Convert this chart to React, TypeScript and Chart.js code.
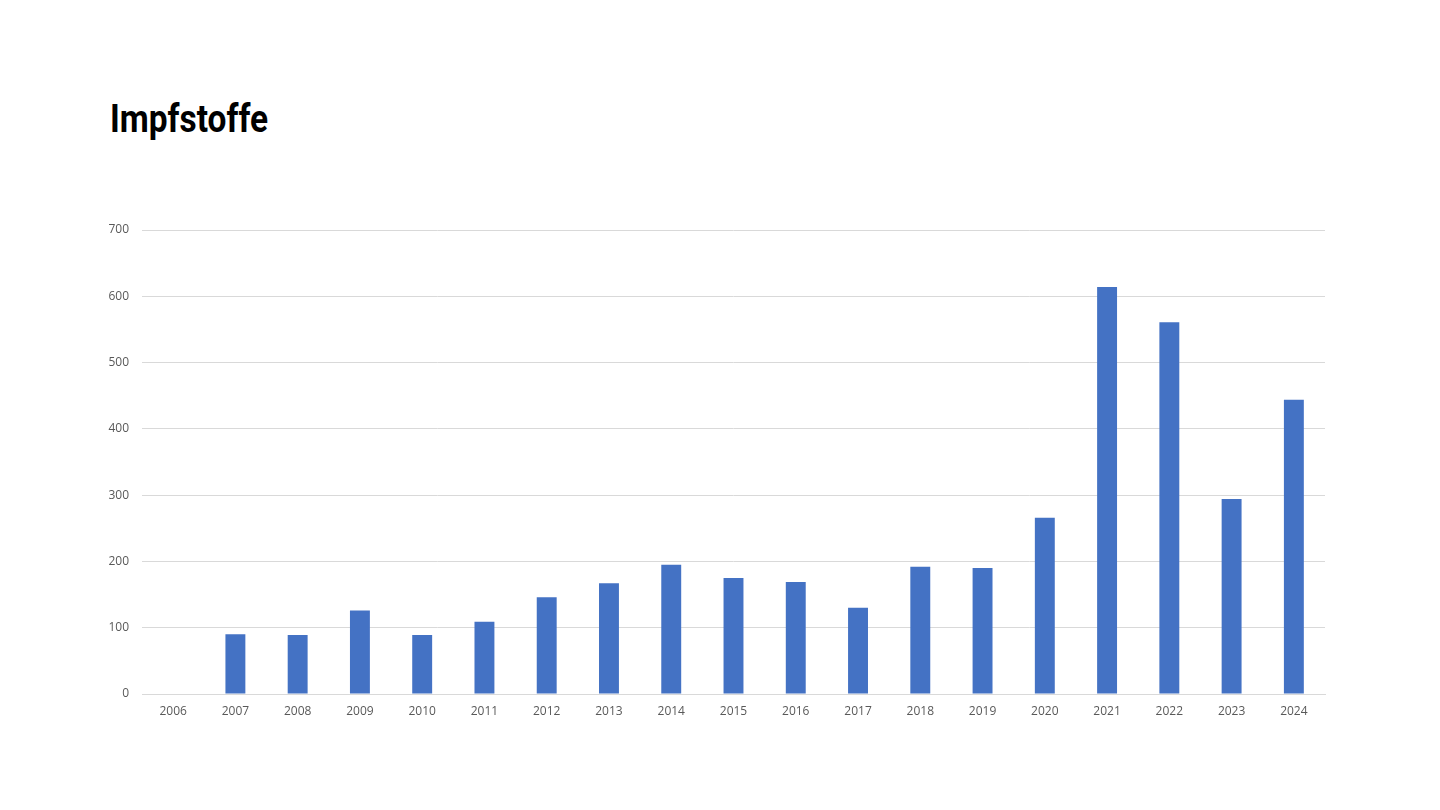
import React, { useEffect, useRef } from "react";
import { Chart, registerables } from "chart.js";

Chart.register(...registerables);

const years: string[] = [
  "2006", "2007", "2008", "2009", "2010", "2011", "2012", "2013", "2014", "2015",
  "2016", "2017", "2018", "2019", "2020", "2021", "2022", "2023", "2024",
];

const impfstoffe: number[] = [
  0, 90, 89, 126, 89, 109, 146, 167, 195, 175,
  169, 130, 192, 190, 266, 614, 561, 294, 444,
];

const yTicks: number[] = [0, 100, 200, 300, 400, 500, 600, 700];

const title = "Impfstoffe";

export default function App() {
  const canvasRef = useRef<HTMLCanvasElement | null>(null);

  useEffect(() => {
    if (!canvasRef.current) return;
    const chart = new Chart(canvasRef.current, {
      type: "bar",
      data: {
        labels: years,
        datasets: [
          {
            label: title,
            data: impfstoffe,
            backgroundColor: "#4472C4",
            borderWidth: 0,
            barPercentage: 0.32,
            categoryPercentage: 1,
          },
        ],
      },
      options: {
        animation: false,
        responsive: false,
        maintainAspectRatio: false,
        layout: {
          padding: { left: 102, right: 115, top: 230, bottom: 76 },
        },
        plugins: {
          legend: { display: false },
          title: { display: false },
          tooltip: { enabled: false },
        },
        scales: {
          x: {
            afterFit: (scale: any) => {
              scale.height = 40;
            },
            grid: {
              display: true,
              drawOnChartArea: false,
              drawTicks: false,
            },
            border: { display: true, color: "#d9d9d9", width: 1 },
            ticks: {
              color: "#595959",
              font: { family: "'Open Sans', 'Noto Sans', sans-serif", size: 12 },
              padding: 10,
              maxRotation: 0,
            },
          },
          y: {
            min: 0,
            max: 700,
            afterFit: (scale: any) => {
              scale.width = 40;
            },
            afterBuildTicks: (scale: any) => {
              scale.ticks = yTicks.map((v) => ({ value: v }));
            },
            grid: {
              color: "#d9d9d9",
              lineWidth: 1,
              drawTicks: false,
            },
            border: { display: false },
            ticks: {
              color: "#595959",
              font: { family: "'Open Sans', 'Noto Sans', sans-serif", size: 12 },
              padding: 13,
            },
          },
        },
      },
    });
    return () => chart.destroy();
  }, []);

  return (
    <div
      style={{
        position: "fixed",
        left: 0,
        top: 0,
        width: 1440,
        height: 810,
        background: "#ffffff",
        overflow: "hidden",
      }}
    >
      <div
        style={{
          position: "absolute",
          left: 110,
          top: 97,
          fontFamily: "Roboto, 'Liberation Sans', sans-serif",
          fontWeight: 700,
          fontSize: 38,
          lineHeight: "44px",
          color: "#000000",
          transform: "scaleX(0.88)",
          transformOrigin: "left top",
          whiteSpace: "nowrap",
        }}
      >
        {title}
      </div>
      <canvas
        ref={canvasRef}
        width={1440}
        height={810}
        style={{ position: "absolute", left: 0, top: 0, width: 1440, height: 810 }}
      />
    </div>
  );
}
